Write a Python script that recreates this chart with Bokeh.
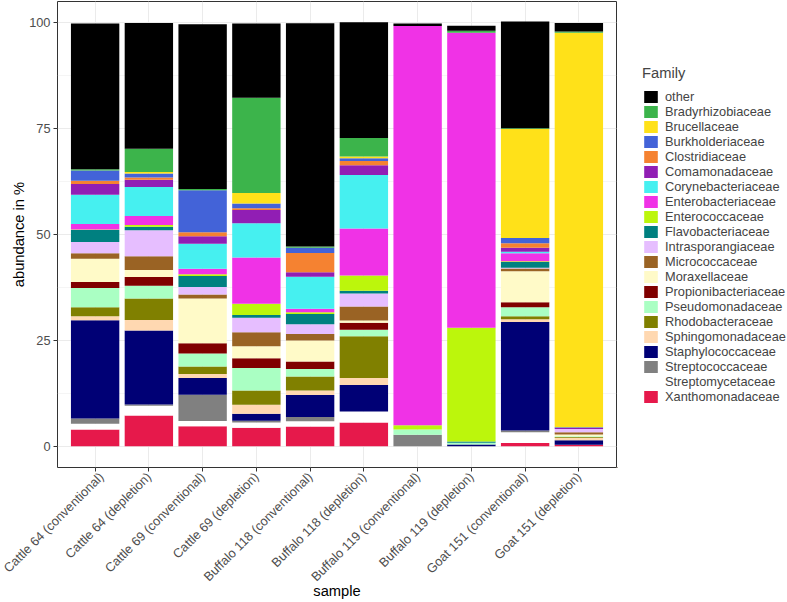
import math
from bokeh.plotting import figure
from bokeh.models import (FactorRange, Range1d, FixedTicker, Legend, LegendItem,
                          ColumnDataSource)
from bokeh.layouts import row
from bokeh.embed import file_html
from bokeh.resources import INLINE

samples = ["Cattle 64 (conventional)", "Cattle 64 (depletion)",
           "Cattle 69 (conventional)", "Cattle 69 (depletion)",
           "Buffalo 118 (conventional)", "Buffalo 118 (depletion)",
           "Buffalo 119 (conventional)", "Buffalo 119 (depletion)",
           "Goat 151 (conventional)", "Goat 151 (depletion)"]

# abundance in % per family (stack order bottom -> top)
xanthomonadaceae     = [3.95, 7.3, 4.75, 4.4, 4.65, 5.65, 0, 0, 0.8, 0.35]
streptomycetaceae    = [1.4, 2.3, 1.2, 1.25, 1.25, 2.55, 0, 0, 2.5, 0]
streptococcaceae     = [1.2, 0.25, 6.2, 0.4, 1.0, 0, 2.75, 0, 0.45, 0]
staphylococcaceae    = [23.2, 17.5, 3.95, 1.65, 5.2, 6.3, 0, 0.4, 25.6, 1.1]
sphingomonadaceae    = [0.95, 2.45, 0.95, 2.1, 1.1, 1.65, 0, 0, 0.65, 0.55]
rhodobacteraceae     = [2.1, 5.1, 1.8, 3.4, 3.3, 9.85, 0, 0, 0.7, 0.2]
pseudomonadaceae     = [4.6, 3.0, 3.05, 5.3, 1.75, 1.5, 1.2, 0.45, 2.1, 0.2]
propionibacteriaceae = [1.4, 2.05, 2.45, 2.3, 1.75, 1.65, 0, 0, 1.2, 0]
moraxellaceae        = [5.5, 1.65, 10.55, 2.85, 4.95, 0.55, 0, 0, 7.3, 0.4]
micrococcaceae       = [1.25, 3.25, 0.95, 3.3, 1.55, 3.3, 0, 0, 0.7, 0.5]
intrasporangiaceae   = [2.7, 6.15, 1.75, 3.4, 2.3, 3.05, 0, 0, 0.15, 0.8]
flavobacteriaceae    = [2.8, 0.8, 2.6, 0.65, 2.45, 0.7, 0, 0.3, 1.35, 0]
enterococcaceae      = [0.15, 0.45, 0.4, 2.65, 0.4, 3.6, 1.0, 26.85, 0.2, 0]
enterobacteriaceae   = [1.25, 2.1, 1.3, 10.9, 0.8, 11.05, 94.25, 69.65, 1.9, 0]
corynebacteriaceae   = [6.95, 6.85, 5.9, 8.1, 7.55, 12.65, 0, 0, 0.3, 0]
comamonadaceae       = [2.5, 1.75, 1.8, 3.15, 1.1, 2.3, 0, 0, 1.0, 0.25]
clostridiaceae       = [0.8, 0.5, 0.95, 0.4, 4.55, 1.0, 0, 0, 1.05, 0]
burkholderiaceae     = [2.4, 0.95, 9.9, 1.1, 1.2, 0.65, 0, 0, 1.25, 0.15]
brucellaceae         = [0, 0.33, 0, 2.5, 0, 0.4, 0, 0, 25.7, 93.15]
bradyrhizobiaceae    = [0.3, 5.5, 0.3, 22.5, 0.3, 4.4, 0, 0.45, 0.2, 0.25]
other                = [34.4, 29.7, 38.9, 17.5, 52.7, 27.3, 0.6, 1.2, 25.2, 2.05]

families = ["Xanthomonadaceae", "Streptomycetaceae", "Streptococcaceae",
            "Staphylococcaceae", "Sphingomonadaceae", "Rhodobacteraceae",
            "Pseudomonadaceae", "Propionibacteriaceae", "Moraxellaceae",
            "Micrococcaceae", "Intrasporangiaceae", "Flavobacteriaceae",
            "Enterococcaceae", "Enterobacteriaceae", "Corynebacteriaceae",
            "Comamonadaceae", "Clostridiaceae", "Burkholderiaceae",
            "Brucellaceae", "Bradyrhizobiaceae", "other"]
values = [xanthomonadaceae, streptomycetaceae, streptococcaceae,
          staphylococcaceae, sphingomonadaceae, rhodobacteraceae,
          pseudomonadaceae, propionibacteriaceae, moraxellaceae,
          micrococcaceae, intrasporangiaceae, flavobacteriaceae,
          enterococcaceae, enterobacteriaceae, corynebacteriaceae,
          comamonadaceae, clostridiaceae, burkholderiaceae,
          brucellaceae, bradyrhizobiaceae, other]
colors = ["#E6194B", "#FFFFFF", "#808080", "#000075", "#FFD8B1", "#808000",
          "#AAFFC3", "#800000", "#FFFAC8", "#9A6324", "#E6BEFF", "#008080",
          "#BCF60C", "#F032E6", "#46F0F0", "#911EB4", "#F58231", "#4363D8",
          "#FFE119", "#3CB44B", "#000000"]

y_ticks = [0, 25, 50, 75, 100]
y_minor = [12.5, 37.5, 62.5, 87.5]

data = {"sample": samples}
for fam, vals in zip(families, values):
    data[fam] = vals
source = ColumnDataSource(data)

FONT = "Liberation Sans"

# ---------------- main chart ----------------
p = figure(x_range=FactorRange(factors=samples, range_padding=0.2,
                               range_padding_units="absolute"),
           y_range=Range1d(-5, 105),
           width=617, height=602,
           min_border_left=57, min_border_right=1,
           min_border_top=1, min_border_bottom=135,
           output_backend="svg", toolbar_location=None)

renderers = p.vbar_stack(families, x="sample", width=0.9, color=colors,
                         line_color=None, source=source)

p.background_fill_color = "white"
p.border_fill_color = "white"
p.outline_line_color = "#333333"
p.outline_line_width = 1

p.xgrid.grid_line_color = "#EBEBEB"
p.xgrid.grid_line_width = 1
p.ygrid.grid_line_color = "#EBEBEB"
p.ygrid.grid_line_width = 1
p.ygrid.minor_grid_line_color = "#EBEBEB"
p.ygrid.minor_grid_line_width = 0.5

p.yaxis.ticker = FixedTicker(ticks=y_ticks, minor_ticks=y_minor)

for ax in (p.xaxis[0], p.yaxis[0]):
    ax.axis_line_color = None
    ax.major_tick_line_color = "#333333"
    ax.major_tick_out = 4
    ax.major_tick_in = 0
    ax.minor_tick_line_color = None
    ax.major_label_text_font = FONT
    ax.major_label_text_font_size = "12.8px"
    ax.major_label_text_color = "#4D4D4D"
    ax.major_label_standoff = 3
    ax.axis_label_text_font = FONT
    ax.axis_label_text_font_size = "14.7px"
    ax.axis_label_text_font_style = "normal"
    ax.axis_label_text_color = "black"

p.xaxis.axis_label = "sample"
p.xaxis.major_label_orientation = math.pi / 4
p.xaxis.axis_label_standoff = -9
p.yaxis.axis_label = "abundance in %"
p.yaxis.axis_label_standoff = -1

# ---------------- legend panel ----------------
lg = figure(width=170, height=602, x_range=Range1d(0, 1), y_range=Range1d(0, 1),
            min_border=0, x_axis_location=None, y_axis_location=None,
            outline_line_color=None, output_backend="svg", toolbar_location=None)
lg.xgrid.visible = False
lg.ygrid.visible = False
lg.background_fill_color = "white"
lg.border_fill_color = "white"

# key swatches only: one bar per family kept outside the visible range
key_source = ColumnDataSource({"x": [-5.0], "bottom": [-5.0], "top": [-4.0]})
items = []
for fam, col in zip(families, colors):
    r = lg.vbar(x="x", bottom="bottom", top="top", width=0.9, fill_color=col,
                line_color=None, source=key_source)
    items.append(LegendItem(label=fam, renderers=[r]))
items = items[::-1]

legend = Legend(items=items, title="Family", location=(25, 63),
                title_text_font=FONT, title_text_font_size="14.7px",
                title_text_font_style="normal", title_standoff=8,
                label_text_font=FONT, label_text_font_size="12.8px",
                glyph_width=17, glyph_height=15, label_height=15,
                spacing=0, label_standoff=6, padding=5, margin=0,
                border_line_color=None, background_fill_alpha=0)
lg.add_layout(legend)

layout = row(p, lg, spacing=0)

open("out.html", "w").write(file_html(layout, INLINE))
